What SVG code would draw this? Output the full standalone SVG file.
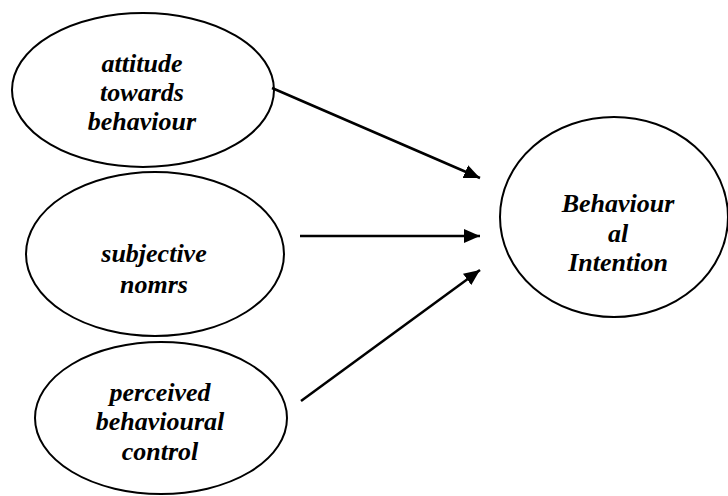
<svg xmlns="http://www.w3.org/2000/svg" width="728" height="496" viewBox="0 0 728 496">
<style>
.n{fill:#fff;stroke:#000;stroke-width:2}
.t{font-family:"Liberation Serif","Times New Roman",serif;font-weight:bold;font-style:italic;font-size:26px;text-anchor:middle;fill:#000}
.c{stroke:#000;stroke-width:2.5;fill:none;marker-end:url(#ah)}
</style>
<defs>
<marker id="ah" markerWidth="16" markerHeight="14" refX="16" refY="7" orient="auto" markerUnits="userSpaceOnUse">
<path d="M0,0 L16,7 L0,14 Z" fill="#000"/>
</marker>
</defs>
<g id="attitude">
<ellipse class="n" cx="143" cy="90" rx="131" ry="77"/>
<text class="t" x="142" y="72">attitude</text>
<text class="t" x="142" y="101">towards</text>
<text class="t" x="142" y="130">behaviour</text>
</g>
<g id="subjective">
<ellipse class="n" cx="155" cy="254" rx="129" ry="82"/>
<text class="t" x="154" y="262">subjective</text>
<text class="t" x="154" y="293">nomrs</text>
</g>
<g id="perceived">
<ellipse class="n" cx="161" cy="418" rx="126" ry="76"/>
<text class="t" x="160" y="401">perceived</text>
<text class="t" x="160" y="430">behavioural</text>
<text class="t" x="160" y="460">control</text>
</g>
<g id="intention">
<ellipse class="n" cx="614" cy="217" rx="114" ry="100"/>
<text class="t" x="618" y="212">Behaviour</text>
<text class="t" x="618" y="242">al</text>
<text class="t" x="618" y="271">Intention</text>
</g>
<g id="connectors">
<line class="c" x1="272" y1="88" x2="480" y2="178"/>
<line class="c" x1="300" y1="236" x2="480" y2="236"/>
<line class="c" x1="301" y1="401" x2="480" y2="270"/>
</g>
</svg>
